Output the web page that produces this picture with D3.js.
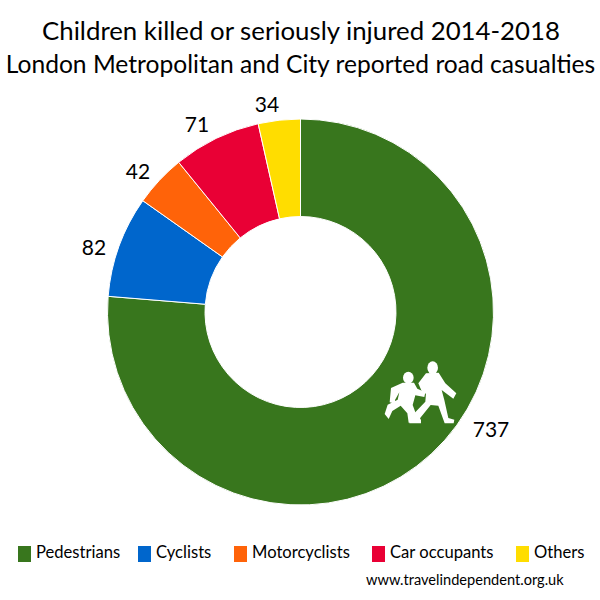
<!DOCTYPE html>
<html><head><meta charset="utf-8">
<script src="https://cdn.jsdelivr.net/npm/d3@7"></script>
<style>html,body{margin:0;background:#fff}svg{display:block}text{font-family:Lato,"Open Sans",sans-serif;fill:#000}</style>
</head><body><svg id="c" width="600" height="600"></svg>
<script>
const categories=["Pedestrians","Cyclists","Motorcyclists","Car occupants","Others"];
const values=[737,82,42,71,34];
const colors=["#38761d","#0066cc","#ff6309","#e90035","#ffdd00"];
const titleLines=["Children killed or seriously injured 2014-2018","London Metropolitan and City reported road casualties"];
const credit="www.travelindependent.org.uk";

const svg=d3.select("#c");
const cx=300.5,cy=312,R=193,r=95.5;
const pie=d3.pie().sort(null).value(d=>d);
const arc=d3.arc().innerRadius(r).outerRadius(R);
const g=svg.append("g").attr("transform",`translate(${cx},${cy})`);
g.selectAll("path").data(pie(values)).join("path")
 .attr("d",arc).attr("fill",(d,i)=>colors[i]).attr("stroke","#fff").attr("stroke-width",1);

const labelPos=[[491,429],[94,247],[138,171],[197,124],[267,104]];
svg.selectAll("text.v").data(values).join("text").attr("class","v")
 .attr("x",(d,i)=>labelPos[i][0]).attr("y",(d,i)=>labelPos[i][1]+7.5)
 .attr("text-anchor","middle").attr("font-size",21).text(d=>d);

const titleY=[40,73], titleS=[25.8,24.6], titleX=[301,300.5];
svg.selectAll("text.t").data(titleLines).join("text").attr("class","t")
 .attr("x",(d,i)=>titleX[i]).attr("y",(d,i)=>titleY[i]).attr("text-anchor","middle")
 .attr("font-size",(d,i)=>titleS[i]).text(d=>d);

const legX=[18,138,234,372,516];
const leg=svg.selectAll("g.l").data(categories).join("g").attr("class","l")
 .attr("transform",(d,i)=>`translate(${legX[i]},546)`);
leg.append("rect").attr("width",13).attr("height",16).attr("fill",(d,i)=>colors[i]);
leg.append("text").attr("x",18).attr("y",11.5).attr("font-size",16.6).text(d=>d);

svg.append("text").attr("x",366).attr("y",585).attr("font-size",14.6).text(credit);

const icon=svg.append("g").attr("transform","translate(370,350) scale(0.3333)").attr("fill","#fff");
icon.append("ellipse").attr("cx",188).attr("cy",53).attr("rx",16).attr("ry",19);
icon.append("ellipse").attr("cx",115).attr("cy",83).attr("rx",16).attr("ry",18);
// adult
icon.append("path").attr("d","M168,70 L206,68 L226,100 L259,130 L250,146 L215,120 L223,150 L235,204 L253,209 L251,220 L224,220 L205,167 L182,165 L150,205 L153,210 L153,220 L118,220 L130,193 L166,155 L168,130 L160,135 L145,100 Z");
// child
icon.append("path").attr("d","M98,98 L132,98 L142,116 L166,127 L163,141 L136,136 L128,165 L138,192 L130,218 L116,218 L112,190 L92,167 L67,183 L56,207 L44,192 L53,164 L83,149 L88,127 L75,150 L77,162 L59,157 L63,114 Z");
</script></body></html>
